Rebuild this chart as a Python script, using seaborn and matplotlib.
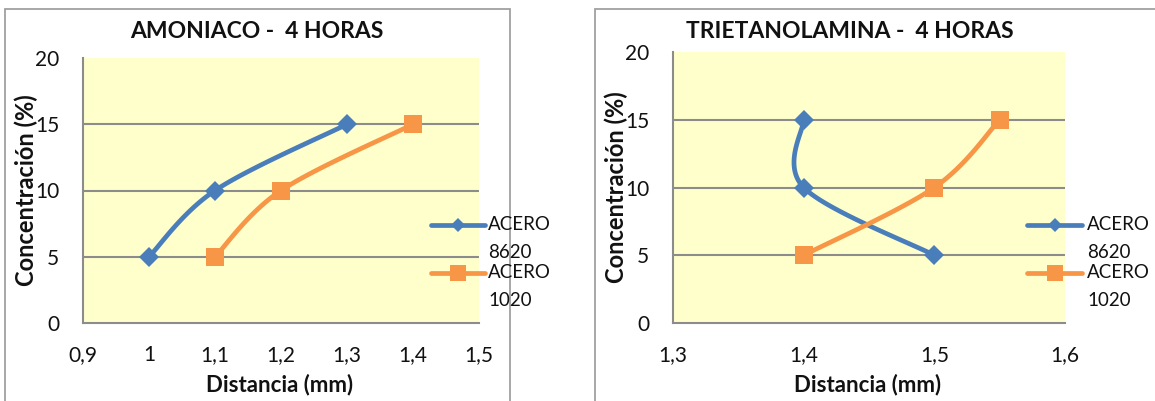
import numpy as np
import pandas as pd
import matplotlib
matplotlib.use("Agg")
import matplotlib.pyplot as plt
from matplotlib.patches import Rectangle
from matplotlib.lines import Line2D
import seaborn as sns

sns.set_theme(style="white")
plt.rcParams["font.family"] = ["Lato", "DejaVu Sans"]

# Concentration levels shared by every series
conc = [5, 10, 15]

# Ammonia, 4 hours
amon_8620_x = [1.0, 1.1, 1.3]
amon_1020_x = [1.1, 1.2, 1.4]
amon_xticks = [0.9, 1.0, 1.1, 1.2, 1.3, 1.4, 1.5]

# Triethanolamine, 4 hours
trie_8620_x = [1.5, 1.4, 1.4]
trie_1020_x = [1.4, 1.5, 1.55]
trie_xticks = [1.3, 1.4, 1.5, 1.6]

yticks = [0, 5, 10, 15, 20]
series_names = ["ACERO\n8620", "ACERO\n1020"]
titles = ["AMONIACO -  4 HORAS", "TRIETANOLAMINA -  4 HORAS"]

BLUE = "#4A7EBB"
ORANGE = "#F79646"
GRID = "#8C8C8C"
PLOT_BG = "#FFFFCC"
TEXT = "#111111"

W, H = 1155, 401
fig = plt.figure(figsize=(W / 100, H / 100), dpi=100)
fig.patch.set_facecolor("white")


def px_box(x0, y0, x1, y1):
    return [x0 / W, 1 - y1 / H, (x1 - x0) / W, (y1 - y0) / H]


def smooth_path(ax, xs, ys, n=40):
    """Catmull-Rom smoothing in screen space, like a spreadsheet smoothed line."""
    pts = ax.transData.transform(np.column_stack([xs, ys]))
    p = np.vstack([pts[0], pts, pts[-1]])
    out = []
    for i in range(1, len(p) - 2):
        p0, p1, p2, p3 = p[i - 1], p[i], p[i + 1], p[i + 2]
        c1 = p1 + (p2 - p0) / 6.0
        c2 = p2 - (p3 - p1) / 6.0
        t = np.linspace(0, 1, n)[:, None]
        seg = ((1 - t) ** 3) * p1 + 3 * ((1 - t) ** 2) * t * c1 + 3 * (1 - t) * t ** 2 * c2 + t ** 3 * p2
        out.append(seg if i == 1 else seg[1:])
    out = np.vstack(out)
    return ax.transData.inverted().transform(out)


def draw_panel(box, frame, xticks, s1x, s2x, title, title_xy, ylab_xy, xlab_xy, legend_px):
    # chart frame
    fig.patches.append(Rectangle((frame[0] / W, 1 - frame[3] / H),
                                 (frame[2] - frame[0]) / W, (frame[3] - frame[1]) / H,
                                 transform=fig.transFigure, fill=False,
                                 edgecolor="#A0A0A0", linewidth=1.3, zorder=0))
    ax = fig.add_axes(px_box(*box))
    ax.set_facecolor(PLOT_BG)
    ax.set_xlim(xticks[0], xticks[-1])
    ax.set_ylim(0, 20)
    ax.set_xticks(xticks)
    ax.set_yticks(yticks)
    ax.set_xticklabels([f"{v:g}".replace(".", ",") for v in xticks], fontsize=15, color=TEXT)
    ax.set_yticklabels([str(v) for v in yticks], fontsize=15, color=TEXT)
    ax.tick_params(axis="both", length=0)
    ax.tick_params(axis="x", pad=16)
    ax.tick_params(axis="y", pad=17)
    for side in ["top", "right"]:
        ax.spines[side].set_visible(False)
    for side in ["left", "bottom"]:
        ax.spines[side].set_color(GRID)
        ax.spines[side].set_linewidth(1.5)
    for v in [5, 10, 15]:
        ax.axhline(v, color=GRID, linewidth=1.5, zorder=1)

    for xs, color, marker, ms in [(s1x, BLUE, "D", 10), (s2x, ORANGE, "s", 13)]:
        path = smooth_path(ax, xs, conc)
        df = pd.DataFrame({"x": path[:, 0], "y": path[:, 1]})
        sns.lineplot(data=df, x="x", y="y", sort=False, estimator=None, ax=ax,
                     color=color, linewidth=3.4, zorder=3)
        pts = pd.DataFrame({"x": xs, "y": conc})
        ax.plot(pts["x"], pts["y"], linestyle="none", marker=marker, markersize=ms,
                color=color, markeredgewidth=0, zorder=4, clip_on=False)
    ax.set_xlabel("")
    ax.set_ylabel("")

    fig.text(title_xy[0] / W, 1 - title_xy[1] / H, title, ha="center", va="center",
             fontsize=16.5, fontweight="bold", color=TEXT)
    fig.text(ylab_xy[0] / W, 1 - ylab_xy[1] / H, "Concentración (%)", ha="center", va="center",
             rotation=90, fontsize=17, fontweight="bold", color=TEXT)
    fig.text(xlab_xy[0] / W, 1 - xlab_xy[1] / H, "Distancia (mm)", ha="center", va="center",
             fontsize=16, fontweight="bold", color=TEXT)

    # legend
    lx0, lx1, tx, ys = legend_px
    for (name, color, marker, ms, ly) in [(series_names[0], BLUE, "D", 7, ys[0]),
                                          (series_names[1], ORANGE, "s", 11, ys[1])]:
        fig.lines.append(Line2D([lx0 / W, lx1 / W], [1 - ly / H, 1 - ly / H],
                                transform=fig.transFigure, color=color, linewidth=3.4,
                                solid_capstyle="round", zorder=5))
        fig.lines.append(Line2D([(lx0 + lx1) / 2 / W], [1 - ly / H], transform=fig.transFigure,
                                marker=marker, markersize=ms, color=color, markeredgewidth=0,
                                linestyle="none", zorder=6))
        fig.text(tx / W, 1 - (ly - 9) / H, name, ha="left", va="top", fontsize=13.5,
                 color=TEXT, linespacing=1.75, zorder=7)
    return ax


draw_panel((83, 58, 479, 323), (5, 9, 510, 410), amon_xticks, amon_8620_x, amon_1020_x,
           titles[0], (257, 32), (26, 190), (280, 385), (431, 485, 488, (225, 273)))
draw_panel((673, 52, 1065, 323), (595, 9, 1170, 410), trie_xticks, trie_8620_x, trie_1020_x,
           titles[1], (850, 32), (616, 187), (868, 385), (1027, 1082, 1087, (225, 273)))

fig.savefig("out.png", dpi=100, facecolor="white")
